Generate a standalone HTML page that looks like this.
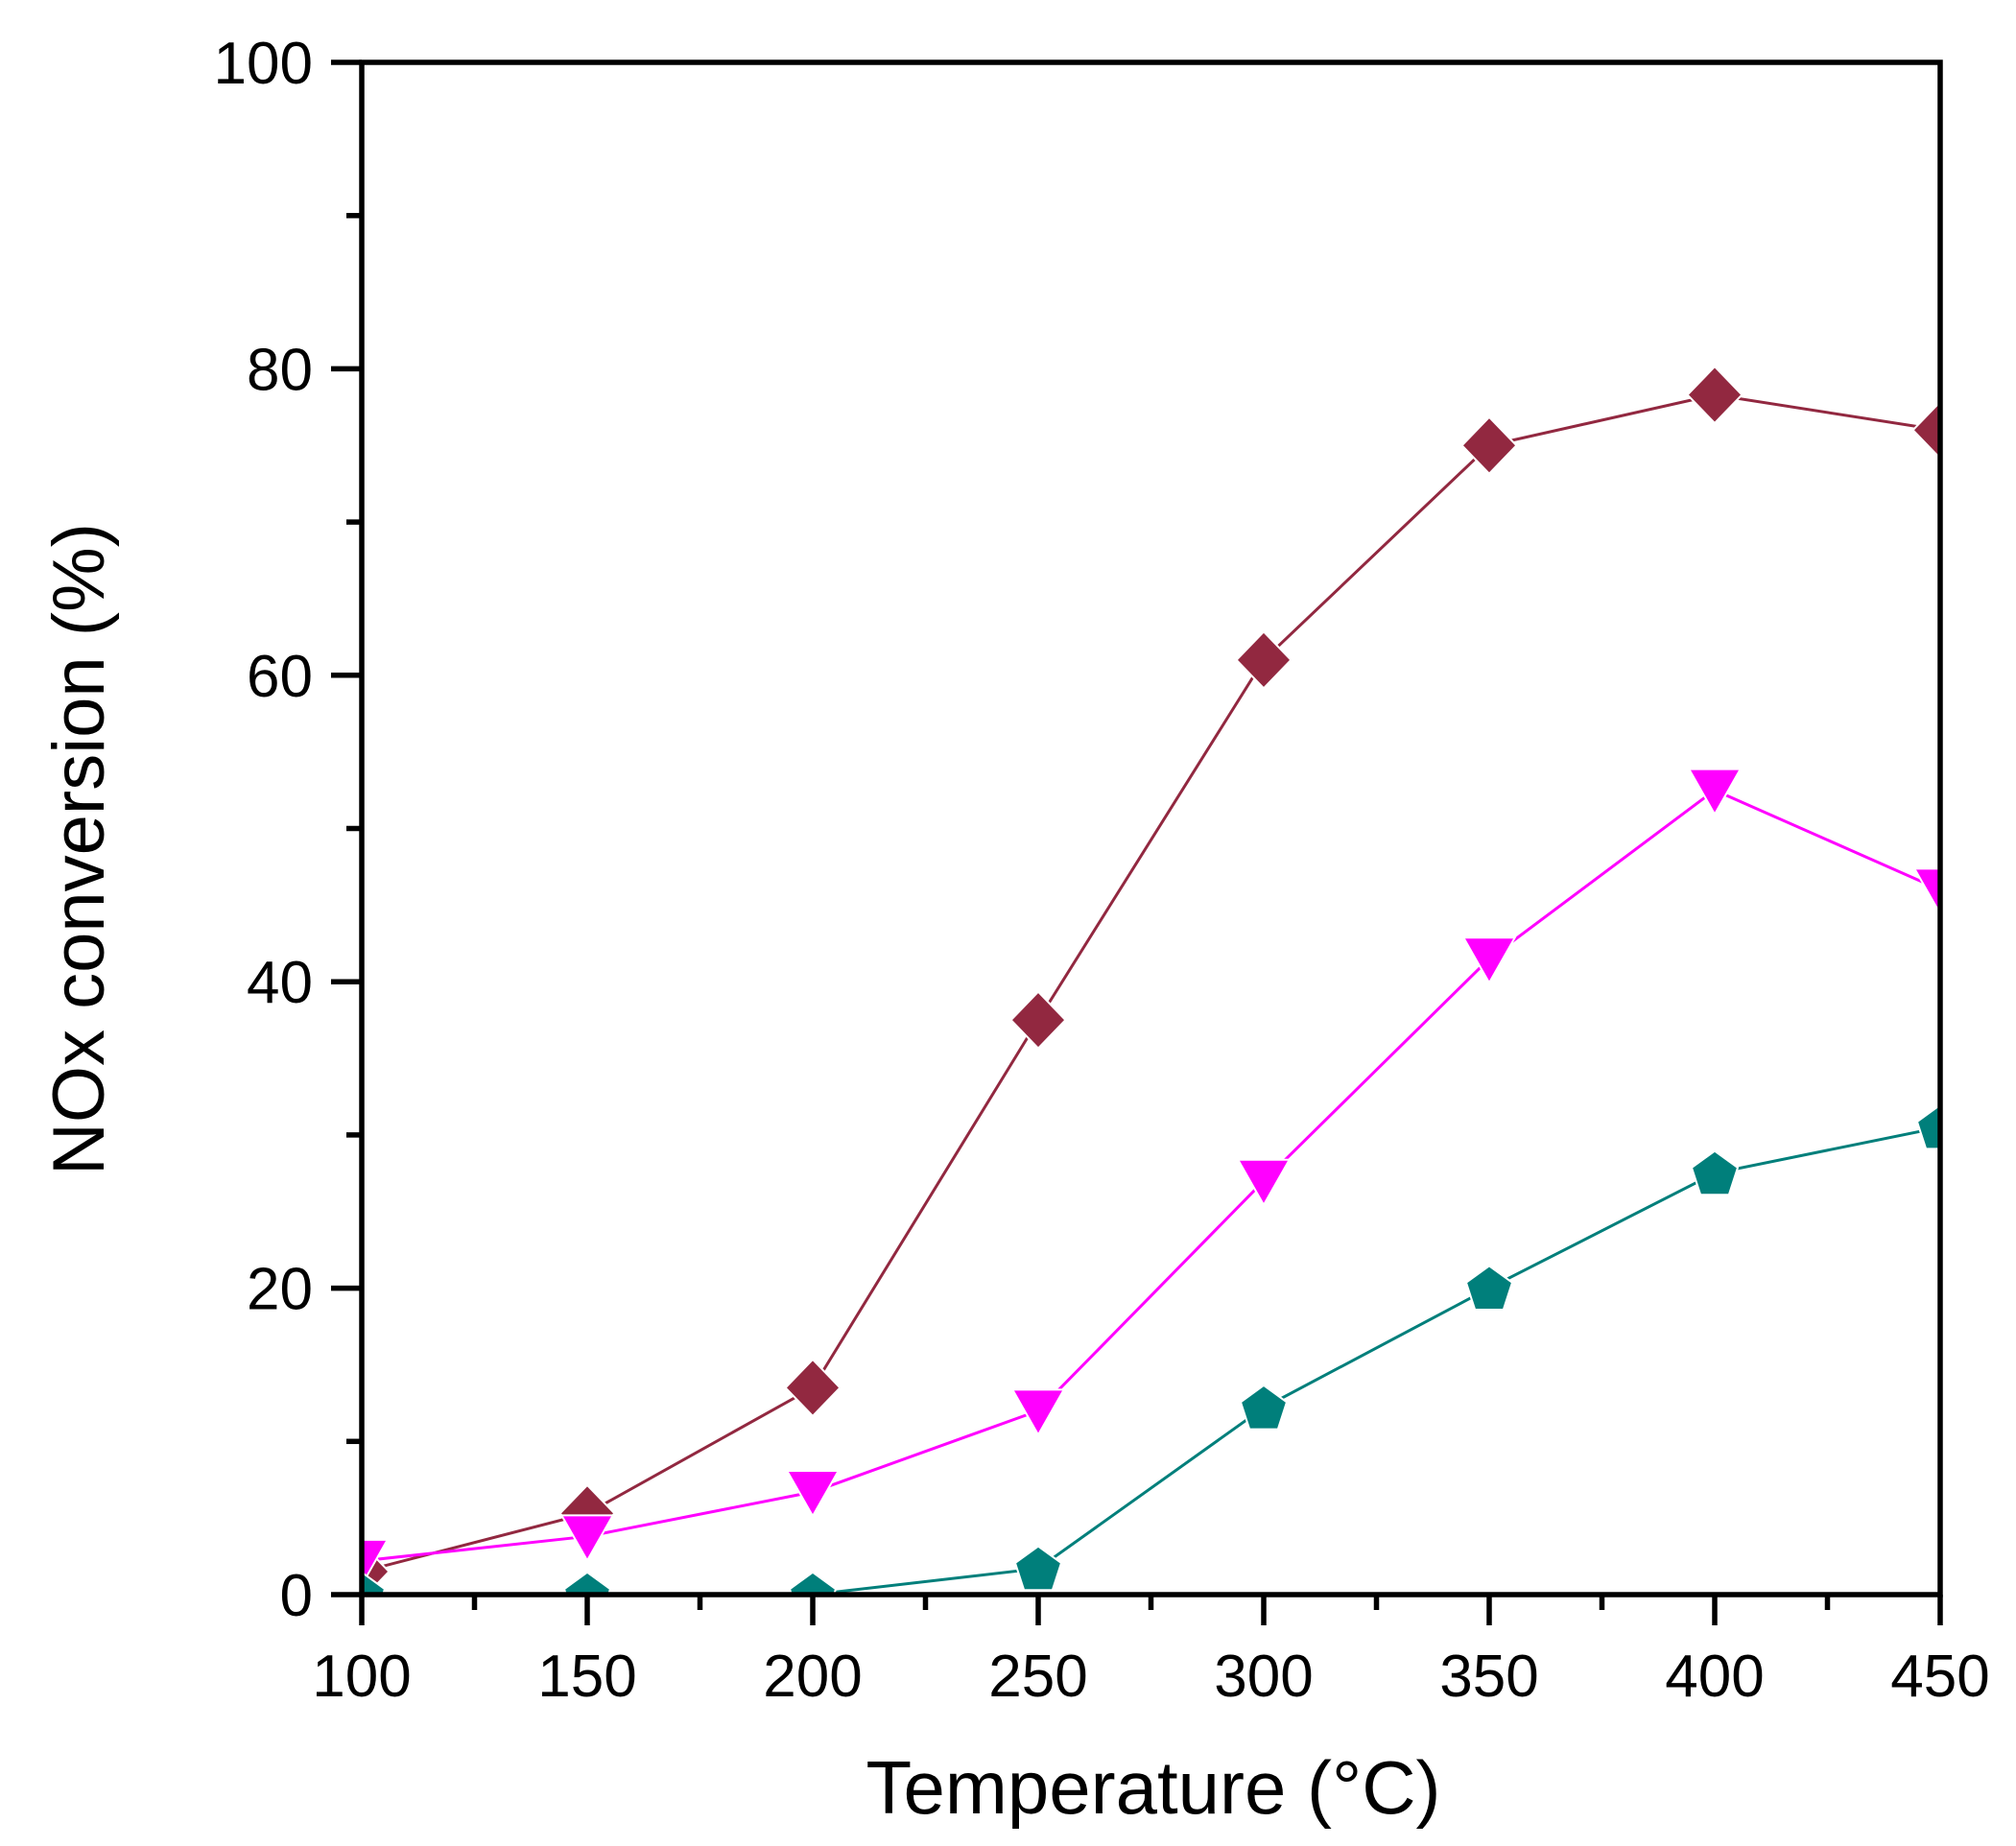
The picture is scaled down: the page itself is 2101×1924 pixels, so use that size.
<!DOCTYPE html>
<html><head><meta charset="utf-8"><style>body{margin:0;background:#fff}svg{display:block}</style></head>
<body>
<svg width="2101" height="1924" viewBox="0 0 2101 1924" xmlns="http://www.w3.org/2000/svg" font-family="Liberation Sans, Arial, sans-serif">
<defs><clipPath id="c"><rect x="377" y="65" width="1645" height="1597"/></clipPath></defs>
<g id="plot" clip-path="url(#c)"></g>
<g stroke="#000" stroke-width="5.5" fill="none">
<rect x="377" y="65" width="1645" height="1597"/>
</g>
<g id="ticks" stroke="#000" stroke-width="5.5"></g>
<g id="labels" font-size="62" fill="#000"></g>
<text x="1202" y="1890" font-size="78" text-anchor="middle">Temperature (°C)</text>
<text transform="translate(108,885) rotate(-90)" font-size="76" text-anchor="middle">NOx conversion (%)</text>
<script>
var X=function(t){return 377+(t-100)*4.7},Y=function(v){return 1662-v*15.97};
var ns="http://www.w3.org/2000/svg";
function el(p,n,a){var e=document.createElementNS(ns,n);for(var k in a)e.setAttribute(k,a[k]);p.appendChild(e);return e}
var tk=document.getElementById('ticks'),lb=document.getElementById('labels'),pl=document.getElementById('plot');
for(var t=100;t<=450;t+=25){var maj=(t%50==0);el(tk,'line',{x1:X(t),x2:X(t),y1:1662,y2:1662+(maj?32:16)});
 if(maj){var s=el(lb,'text',{x:X(t),y:1768,'text-anchor':'middle'});s.textContent=t;}}
for(var v=0;v<=100;v+=10){var maj=(v%20==0);el(tk,'line',{x1:377,x2:377-(maj?32:16),y1:Y(v),y2:Y(v)});
 if(maj){var s=el(lb,'text',{x:326,y:Y(v)+22,'text-anchor':'end'});s.textContent=v;}}
var T=[100,150,200,250,300,350,400,450];
var S=[
 {c:'#922840',d:[1.5,5.3,13.5,37.5,61,75,78.3,76],m:'d',w:3},
 {c:'#ff00ff',d:[2.2,3.8,6.7,12,27,41.5,52.5,46],m:'t',w:3},
 {c:'#007f7b',d:[0,0,0,1.7,12.2,20,27.5,30.5],m:'p',w:3}];
S.forEach(function(s){
 var pts=T.map(function(t,i){return X(t)+','+Y(s.d[i])}).join(' ');
 el(pl,'polyline',{points:pts,fill:'none',stroke:s.c,'stroke-width':s.w});
});
S.forEach(function(s){
 T.forEach(function(t,i){var x=X(t),y=Y(s.d[i]),p;
  if(s.m=='d')p=[[x,y-28],[x+27,y],[x,y+28],[x-27,y]];
  else if(s.m=='t')p=[[x-25,y-21],[x+25,y-21],[x,y+23]];
  else{p=[];for(var k=0;k<5;k++){var a=-Math.PI/2+k*2*Math.PI/5;p.push([x+24*Math.cos(a),y+24*Math.sin(a)+2]);}}
  el(pl,'polygon',{points:p.map(function(q){return q.join(',')}).join(' '),fill:s.c,stroke:'#fff','stroke-width':4,'paint-order':'stroke'});
 });
});
</script>
</svg>
</body></html>
